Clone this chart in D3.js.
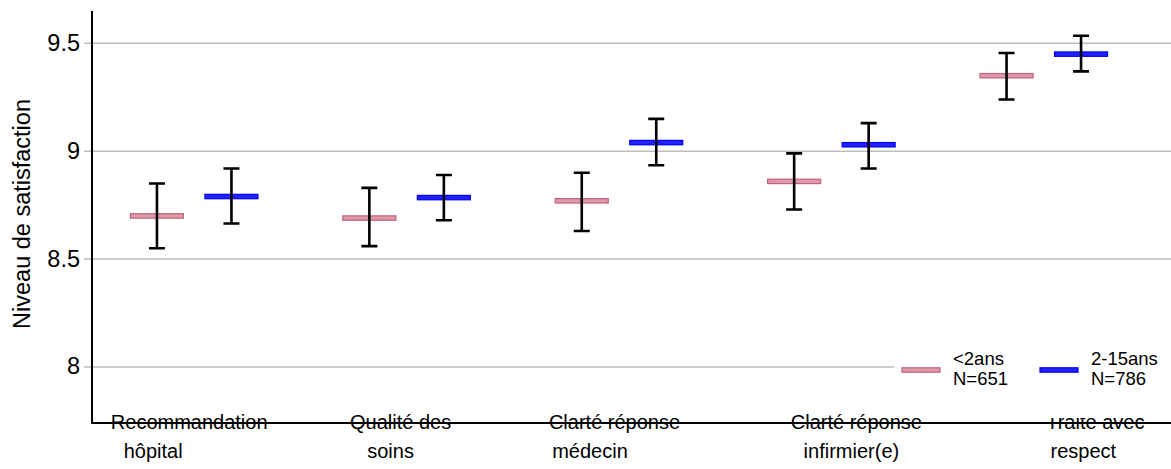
<!DOCTYPE html>
<html>
<head>
<meta charset="utf-8">
<script src="https://cdn.jsdelivr.net/npm/d3@7"></script>
<style>
  html, body { margin: 0; padding: 0; background: #fff; }
  svg { display: block; font-family: "Liberation Sans", Arial, sans-serif; }
</style>
</head>
<body>
<svg id="chart" width="1171" height="469"></svg>
<script>
// Items of the survey, each label split over two lines
const categories = ["Recommandation hôpital", "Qualité des soins", "Clarté réponse médecin", "Clarté réponse infirmier(e)", "Traité avec respect"];
const labelLine1 = ["Recommandation", "Qualité des", "Clarté réponse", "Clarté réponse", "Traité avec"];
const labelLine2 = ["hôpital", "soins", "médecin", "infirmier(e)", "respect"];

// Age groups
const seriesNames = ["<2ans", "2-15ans"];
const seriesN = ["N=651", "N=786"];

// Mean satisfaction with lower / upper confidence bounds
const meanUnder2 = [8.70, 8.69, 8.77, 8.86, 9.35];
const lowUnder2  = [8.55, 8.56, 8.63, 8.73, 9.24];
const highUnder2 = [8.85, 8.83, 8.90, 8.99, 9.455];
const mean2to15  = [8.79, 8.785, 9.04, 9.03, 9.45];
const low2to15   = [8.665, 8.68, 8.935, 8.92, 9.37];
const high2to15  = [8.92, 8.89, 9.15, 9.13, 9.535];

const yTicks = [8, 8.5, 9, 9.5];
const yTickLabels = ["8", "8.5", "9", "9.5"];

// ---- layout ----
const svg = d3.select("#chart");
const axisX = 92, axisTop = 11, axisBottom = 423, rightEdge = 1171;
const colors = { fill: ["#dc9aaa", "#2222f4"], stroke: ["#c4607c", "#0000ff"] };
// small horizontal nudges of the two label lines relative to the group centre
const line1Dx = [-5, -6, -4.5, 25, 51.5];
const line2Dx = [-41, -16, -29, 20, 39.5];

const x = d3.scaleBand().domain(categories).range([88, 1150]);
const xs = d3.scalePoint().domain(seriesNames).range([-37.25, 37.25]);
const y = d3.scaleLinear().domain([7.74, 9.65]).range([axisBottom, axisTop]);

const rows = [];
categories.forEach((c, i) => {
  rows.push({ cat: c, s: 0, mean: meanUnder2[i], lo: lowUnder2[i], hi: highUnder2[i] });
  rows.push({ cat: c, s: 1, mean: mean2to15[i], lo: low2to15[i], hi: high2to15[i] });
});
const cx = d => x(d.cat) + x.bandwidth() / 2 + xs(seriesNames[d.s]);

// gridlines (extending left of the axis as tick marks)
svg.append("g").selectAll("line").data(yTicks).join("line")
  .attr("x1", 84).attr("x2", rightEdge)
  .attr("y1", d => y(d)).attr("y2", d => y(d))
  .attr("stroke", "#bdbdbd").attr("stroke-width", 1.5);

// tick labels
svg.append("g").selectAll("text").data(yTicks).join("text")
  .attr("x", 80).attr("y", d => y(d))
  .attr("dy", "0.32em").attr("text-anchor", "end")
  .attr("font-size", 23.5).attr("fill", "#000")
  .text((d, i) => yTickLabels[i]);

// axis title
svg.append("text")
  .attr("transform", `translate(30,${214}) rotate(-90)`)
  .attr("text-anchor", "middle").attr("font-size", 23.5).attr("fill", "#000")
  .text("Niveau de satisfaction");

// mean markers
svg.append("g").selectAll("rect").data(rows).join("rect")
  .attr("x", d => cx(d) - 26.5).attr("y", d => y(d.mean) - 2.2)
  .attr("width", 53).attr("height", 4.4)
  .attr("fill", d => colors.fill[d.s]).attr("stroke", d => colors.stroke[d.s])
  .attr("stroke-width", 1.2);

// confidence intervals
const eb = svg.append("g").attr("stroke", "#000").attr("stroke-width", 2.6).attr("fill", "none");
eb.selectAll("path").data(rows).join("path")
  .attr("d", d => {
    const c = cx(d), t = y(d.hi), b = y(d.lo);
    return `M${c - 8},${t}H${c + 8}M${c},${t}V${b}M${c - 8},${b}H${c + 8}`;
  });

// category labels
const lab = svg.append("g").attr("font-size", 20).attr("fill", "#000").attr("text-anchor", "middle");
lab.selectAll("text.l1").data(categories).join("text").attr("class", "l1")
  .attr("x", (d, i) => x(d) + x.bandwidth() / 2 + line1Dx[i]).attr("y", 429)
  .text((d, i) => labelLine1[i]);
lab.selectAll("text.l2").data(categories).join("text").attr("class", "l2")
  .attr("x", (d, i) => x(d) + x.bandwidth() / 2 + line2Dx[i]).attr("y", 458)
  .text((d, i) => labelLine2[i]);

// legend (its white box sits over the lower right of the plot)
const leg = svg.append("g");
leg.append("rect").attr("x", 894).attr("y", 338).attr("width", rightEdge - 894).attr("height", 80).attr("fill", "#fff");
seriesNames.forEach((s, i) => {
  const gx = 902 + i * 138;
  leg.append("rect").attr("x", gx).attr("y", 367.8).attr("width", 38).attr("height", 4.4)
    .attr("fill", colors.fill[i]).attr("stroke", colors.stroke[i]).attr("stroke-width", 1.2);
  const t = leg.append("text").attr("font-size", 18.5).attr("fill", "#000");
  t.append("tspan").attr("x", gx + 51).attr("y", 365).text(s);
  t.append("tspan").attr("x", gx + 51).attr("y", 385).text(seriesN[i]);
});

// axes lines
svg.append("path")
  .attr("d", `M${axisX},${axisTop}V${axisBottom}H${rightEdge}`)
  .attr("fill", "none").attr("stroke", "#000").attr("stroke-width", 2);
</script>
</body>
</html>
